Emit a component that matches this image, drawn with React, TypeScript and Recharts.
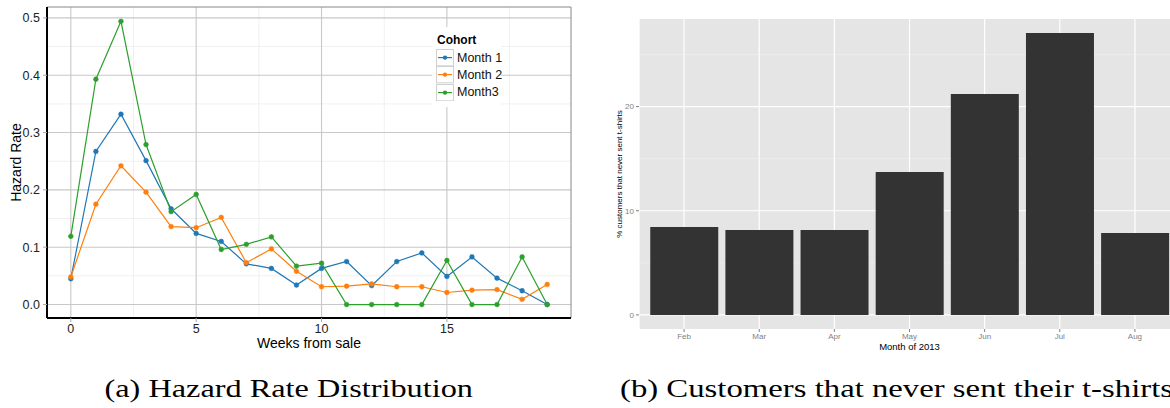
import React from 'react';
import {
  LineChart, Line, XAxis, YAxis, CartesianGrid, ReferenceLine, Legend,
  BarChart, Bar,
} from 'recharts';

// ---- Chart (a): hazard rate ----
const weeks = [0, 1, 2, 3, 4, 5, 6, 7, 8, 9, 10, 11, 12, 13, 14, 15, 16, 17, 18, 19];
const month1 = [0.045, 0.267, 0.332, 0.251, 0.167, 0.124, 0.110, 0.071, 0.063, 0.034, 0.063, 0.075, 0.033, 0.075, 0.090, 0.049, 0.083, 0.046, 0.024, 0.000];
const month2 = [0.048, 0.175, 0.242, 0.196, 0.136, 0.134, 0.152, 0.073, 0.097, 0.058, 0.031, 0.032, 0.036, 0.031, 0.031, 0.021, 0.025, 0.026, 0.009, 0.035];
const month3 = [0.119, 0.393, 0.494, 0.279, 0.162, 0.192, 0.096, 0.105, 0.118, 0.067, 0.072, 0.000, 0.000, 0.000, 0.000, 0.077, 0.000, 0.000, 0.083, 0.000];
const seriesNames = ['Month 1', 'Month 2', 'Month3'];
const seriesColors = ['#1f77b4', '#ff7f0e', '#2ca02c'];
const xTicksA = [0, 5, 10, 15];
const xMinorA = [2.5, 7.5, 12.5, 17.5];
const yTicksA = [0, 0.1, 0.2, 0.3, 0.4, 0.5];
const yMinorA = [0.05, 0.15, 0.25, 0.35, 0.45];

// ---- Chart (b): customers that never sent t-shirts ----
const months = ['Feb', 'Mar', 'Apr', 'May', 'Jun', 'Jul', 'Aug'];
const pctNeverSent = [8.45, 8.16, 8.16, 13.72, 21.2, 27.06, 7.87];
const yTicksB = [0, 10, 20];
const yMinorB = [5, 15, 25];

const hazardData = weeks.map((w, i) => ({ week: w, m1: month1[i], m2: month2[i], m3: month3[i] }));
const barData = months.map((m, i) => ({ month: m, pct: pctNeverSent[i] }));

const SANS = '"Liberation Sans", Arial, Helvetica, sans-serif';
const SERIF = '"Liberation Serif", "DejaVu Serif", serif';

const X_DOM_A: [number, number] = [-0.95, 19.95];
const Y_DOM_A: [number, number] = [-0.0235, 0.519];

const LegendBox = () => (
  <div style={{ background: '#fff', width: 69, height: 80, fontFamily: SANS, position: 'relative' }}>
    <div style={{ position: 'absolute', left: 5, top: 6, fontSize: 12, fontWeight: 'bold', color: '#000' }}>Cohort</div>
    {seriesNames.map((n, i) => (
      <div key={n} style={{ position: 'absolute', left: 4, top: 22 + i * 17.3, height: 17.3, display: 'flex', alignItems: 'center' }}>
        <svg width={18} height={17.3} style={{ display: 'block' }}>
          <rect x={0.5} y={0.5} width={17} height={16.3} fill="#fff" stroke="#d0d0d0" />
          <line x1={2} x2={16} y1={8.6} y2={8.6} stroke={seriesColors[i]} strokeWidth={1.2} />
          <circle cx={9} cy={8.6} r={2.2} fill={seriesColors[i]} />
        </svg>
        <span style={{ marginLeft: 3, fontSize: 12.5, color: '#111', whiteSpace: 'nowrap' }}>{n}</span>
      </div>
    ))}
  </div>
);

export default function App() {
  const keys = ['m1', 'm2', 'm3'];
  return (
    <div style={{ position: 'absolute', left: 0, top: 0, width: 1170, height: 408, overflow: 'hidden', background: '#fff' }}>
      {/* Chart (a) */}
      <div style={{ position: 'absolute', left: 0, top: 0 }}>
        <LineChart width={600} height={360} data={hazardData} margin={{ top: 7, right: 29, bottom: 12, left: 0 }}>
          <CartesianGrid horizontalValues={yMinorA} verticalValues={xMinorA} stroke="#f0f0f0" strokeWidth={1} />
          <CartesianGrid horizontalValues={yTicksA} verticalValues={xTicksA} stroke="#c8c8c8" strokeWidth={1.1} />
          <XAxis
            dataKey="week" type="number" domain={X_DOM_A} ticks={xTicksA} allowDataOverflow
            height={30} tickSize={4} tickMargin={2}
            axisLine={{ stroke: '#000', strokeWidth: 2 }} tickLine={{ stroke: '#aaa' }}
            tick={{ fontFamily: SANS, fontSize: 12.5, fill: '#222' }}
          />
          <YAxis
            type="number" domain={Y_DOM_A} ticks={yTicksA} allowDataOverflow
            width={47} tickSize={4} tickMargin={3}
            tickFormatter={(v: number) => v.toFixed(1)}
            axisLine={{ stroke: '#000', strokeWidth: 2 }} tickLine={{ stroke: '#aaa' }}
            tick={{ fontFamily: SANS, fontSize: 12.5, fill: '#222' }}
          />
          <ReferenceLine y={Y_DOM_A[1]} stroke="#888" strokeWidth={1} />
          <ReferenceLine x={X_DOM_A[1]} stroke="#888" strokeWidth={1} />
          {keys.map((k, i) => (
            <Line
              key={k} dataKey={k} name={seriesNames[i]} type="linear" stroke={seriesColors[i]} strokeWidth={1.2}
              dot={{ r: 2.4, fill: seriesColors[i], stroke: seriesColors[i], strokeWidth: 0.5 }}
              isAnimationActive={false}
            />
          ))}
          <Legend
            layout="vertical" align="center" verticalAlign="middle"
            content={() => <LegendBox />}
            wrapperStyle={{ position: 'absolute', left: 432, top: 27, width: 69, height: 80 }}
          />
        </LineChart>
      </div>

      {/* Chart (b) */}
      <div style={{ position: 'absolute', left: 600, top: 0 }}>
        <BarChart width={590} height={360} data={barData} margin={{ top: 19, right: 10, bottom: 13, left: 0 }} barCategoryGap="5%">
          <CartesianGrid horizontal={false} fill="#e5e5e5" stroke="#ffffff" strokeWidth={1.2} />
          <CartesianGrid vertical={false} horizontalValues={yMinorB} stroke="#f2f2f2" strokeWidth={0.6} />
          <CartesianGrid vertical={false} horizontalValues={yTicksB} stroke="#ffffff" strokeWidth={1.2} />
          <XAxis
            dataKey="month" type="category" padding={{ left: 7.5, right: 7.5 }}
            height={18} tickSize={3} tickMargin={1}
            axisLine={false} tickLine={{ stroke: '#7f7f7f' }}
            tick={{ fontFamily: SANS, fontSize: 8, fill: '#7f7f7f' }}
          />
          <YAxis
            type="number" domain={[-1.353, 28.41]} ticks={yTicksB} allowDataOverflow
            width={39} tickSize={3} tickMargin={2}
            axisLine={false} tickLine={{ stroke: '#7f7f7f' }}
            tick={{ fontFamily: SANS, fontSize: 8, fill: '#7f7f7f' }}
          />
          <Bar dataKey="pct" fill="#333333" isAnimationActive={false} />
        </BarChart>
      </div>

      {/* Axis titles and captions */}
      <svg width={1170} height={408} style={{ position: 'absolute', left: 0, top: 0, pointerEvents: 'none' }}>
        <text x={309} y={348} textAnchor="middle" fontFamily={SANS} fontSize={14} fill="#000">Weeks from sale</text>
        <text transform="translate(21,162.5) rotate(-90)" textAnchor="middle" fontFamily={SANS} fontSize={14} fill="#000">Hazard Rate</text>
        <text x={909.5} y={350} textAnchor="middle" fontFamily={SANS} fontSize={9.5} fill="#000">Month of 2013</text>
        <text transform="translate(622,174) rotate(-90)" textAnchor="middle" fontFamily={SANS} fontSize={8} fill="#000">% customers that never sent t-shirts</text>
        <text x={104.5} y={397} fontFamily={SERIF} fontSize={25} fill="#000" textLength={368.5} lengthAdjust="spacingAndGlyphs">(a) Hazard Rate Distribution</text>
        <text x={620} y={397} fontFamily={SERIF} fontSize={25} fill="#000" textLength={553} lengthAdjust="spacingAndGlyphs">(b) Customers that never sent their t-shirts</text>
      </svg>
    </div>
  );
}
